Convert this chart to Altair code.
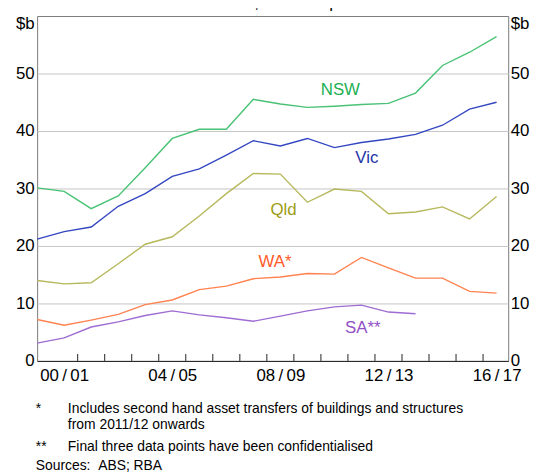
import altair as alt
import pandas as pd

# ---- data ----
years = ["99/00", "00/01", "01/02", "02/03", "03/04", "04/05", "05/06", "06/07", "07/08",
         "08/09", "09/10", "10/11", "11/12", "12/13", "13/14", "14/15", "15/16", "16/17"]
nsw = [30.1, 29.5, 26.5, 28.7, 33.6, 38.7, 40.3, 40.3, 45.5, 44.7, 44.1, 44.3, 44.6, 44.8, 46.6, 51.4, 53.7, 56.4]
vic = [21.2, 22.5, 23.3, 26.9, 29.1, 32.1, 33.4, 35.8, 38.3, 37.4, 38.7, 37.1, 38.0, 38.6, 39.4, 41.0, 43.8, 45.0]
qld = [14.0, 13.4, 13.6, 16.9, 20.3, 21.6, 25.2, 29.1, 32.6, 32.5, 27.6, 29.9, 29.5, 25.6, 25.9, 26.8, 24.7, 28.6]
wa = [7.2, 6.2, 7.1, 8.1, 9.8, 10.6, 12.4, 13.0, 14.3, 14.6, 15.2, 15.1, 18.0, 16.2, 14.4, 14.4, 12.1, 11.8]
sa = [3.1, 4.0, 5.9, 6.8, 7.9, 8.7, 8.0, 7.5, 6.9, 7.8, 8.7, 9.4, 9.7, 8.5, 8.2, None, None, None]

series_names = ["NSW", "Vic", "Qld", "WA", "SA"]
series_values = [nsw, vic, qld, wa, sa]
line_colors = ["#48c274", "#3447c2", "#b6b85c", "#ff8250", "#9e6cd2"]

label_text = ["NSW", "Vic", "Qld", "WA*", "SA**"]
label_x = [11.22, 12.2, 9.12, 8.8, 12.05]
label_y = [47.1, 35.3, 26.3, 17.2, 5.8]
label_colors = ["#22b052", "#2334aa", "#9c9c16", "#ff5a28", "#9150c6"]

x_label_years = [1, 5, 9, 13, 17]
y_ticks = [0, 10, 20, 30, 40, 50, 60]

title_text = "Chain volume, 2015/16 prices"
notes = [
    ("*", "Includes second hand asset transfers of buildings and structures"),
    ("", "from 2011/12 onwards"),
    ("**", "Final three data points have been confidentialised"),
]
sources = "Sources:\u00a0\u00a0ABS; RBA"

# ---- tables ----
rows = []
for name, vals in zip(series_names, series_values):
    for i, v in enumerate(vals):
        if v is not None:
            rows.append({"s": name, "i": i, "v": v})
df = pd.DataFrame(rows)

lab_df = pd.DataFrame({"t": label_text, "x": label_x, "y": label_y})
tick_df = pd.DataFrame({"t": [k + 0.5 for k in range(1, len(years) - 1)]})

pretty = [y.replace("/", "\u2009/\u2009") for y in years]
label_expr = "[" + ",".join("'" + p + "'" for p in pretty) + "][datum.value]"

FONT = "Liberation Sans"
W, H = 475.3, 348
xscale = alt.Scale(domain=[0, 17.43], nice=False, zero=False)
yscale = alt.Scale(domain=[0, 60], nice=False)

x_axis = alt.Axis(values=x_label_years, labelExpr=label_expr, ticks=False, grid=False,
                  domain=True, domainColor="#222", labelFontSize=17, labelFont=FONT,
                  labelColor="#000", labelPadding=7, labelFlush=False, labelOverlap=False,
                  title=None)

def y_axis(orient, grid):
    return alt.Axis(orient=orient, values=y_ticks,
                    labelExpr="datum.value == 60 ? '$b' : datum.label",
                    labelBaseline={"condition": {"test": "datum.value == 60", "value": "top"},
                                   "value": "middle"},
                    ticks=False, domain=False, grid=grid,
                    gridColor={"condition": {"test": "datum.value == 0 || datum.value == 60",
                                             "value": "transparent"}, "value": "#c4c4c4"},
                    gridWidth=1, labelFontSize=17, labelFont=FONT, labelColor="#000",
                    labelPadding=3 if orient == "left" else 2, labelFlush=False,
                    labelOverlap=False, title=None)

lines = alt.Chart(df).mark_line(strokeWidth=1.4).encode(
    x=alt.X("i:Q", scale=xscale, axis=x_axis),
    y=alt.Y("v:Q", scale=yscale, axis=y_axis("left", True)),
    color=alt.Color("s:N", scale=alt.Scale(domain=series_names, range=line_colors), legend=None),
)

right = alt.Chart(df).mark_point(opacity=0).encode(
    x=alt.X("i:Q", scale=xscale, axis=x_axis),
    y=alt.Y("v:Q", scale=yscale, axis=y_axis("right", False)),
)

ticks = alt.Chart(tick_df).mark_rule(color="#222", strokeWidth=1).encode(
    x=alt.X("t:Q", scale=xscale, axis=x_axis),
    y=alt.value(H),
    y2=alt.value(H - 7),
)

labels = alt.Chart(lab_df).mark_text(fontSize=17, font=FONT).encode(
    x=alt.X("x:Q", scale=xscale, axis=x_axis),
    y=alt.Y("y:Q", scale=yscale, axis=None),
    text="t:N",
    color=alt.Color("t:N", scale=alt.Scale(domain=label_text, range=label_colors), legend=None),
)

one = pd.DataFrame({"a": [0]})
texts = []
texts.append(alt.Chart(one).mark_text(fontSize=17, font=FONT, align="center",
                                      baseline="alphabetic", color="#000").encode(
    x=alt.value(227.6), y=alt.value(-8.5), text=alt.value(title_text)))
note_y = [396.5, 413, 434.5]
for (mark, txt), yy in zip(notes, note_y):
    if mark:
        texts.append(alt.Chart(one).mark_text(fontSize=14, font=FONT, align="left",
                                              baseline="middle", color="#000").encode(
            x=alt.value(-1.4), y=alt.value(yy), text=alt.value(mark)))
    texts.append(alt.Chart(one).mark_text(fontSize=14, font=FONT, align="left",
                                          baseline="middle", color="#000").encode(
        x=alt.value(31), y=alt.value(yy), text=alt.value(txt)))
texts.append(alt.Chart(one).mark_text(fontSize=14, font=FONT, align="left",
                                      baseline="middle", color="#000").encode(
    x=alt.value(-1.4), y=alt.value(454), text=alt.value(sources)))

chart = alt.layer(lines, right, ticks, labels, *texts).resolve_axis(
    y="independent"
).resolve_scale(color="independent").properties(
    width=W, height=H,
    padding={"left": 29.4, "top": 6, "right": 22, "bottom": 111},
    autosize=alt.AutoSizeParams(type="none"),
).configure_view(stroke="#7a7a7a", strokeWidth=1)

chart.save("out.html", embed_options={"renderer": "svg", "actions": False})
